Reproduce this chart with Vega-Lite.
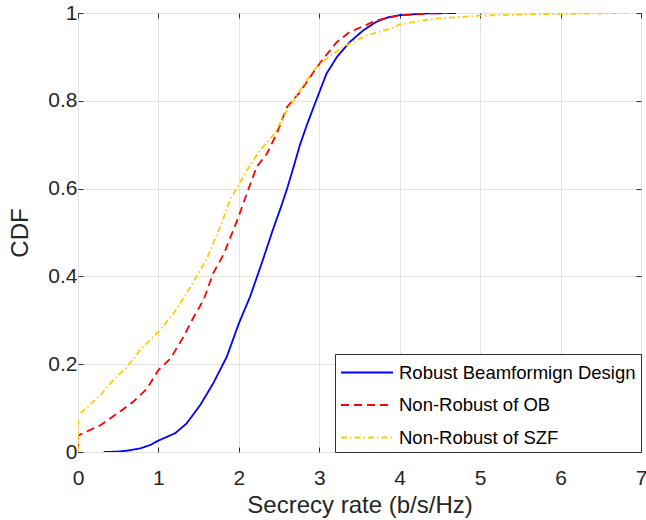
{
  "$schema": "https://vega.github.io/schema/vega-lite/v6.json",
  "width": 563,
  "height": 439,
  "autosize": {"type": "none"},
  "padding": {"left": 78, "top": 13, "right": 5, "bottom": 68},
  "background": "white",
  "config": {
    "font": "Liberation Sans",
    "view": {"stroke": "#303030", "strokeWidth": 1},
    "axis": {
      "domain": false,
      "grid": true,
      "gridColor": "#e3e3e3",
      "gridWidth": 1,
      "tickColor": "#303030",
      "tickSize": -5,
      "labelFlush": false,
      "labelOverlap": false,
      "labelFont": "Liberation Sans",
      "labelFontSize": 21,
      "labelColor": "#262626",
      "titleFont": "Liberation Sans",
      "titleFontSize": 24,
      "titleFontWeight": "normal",
      "titleColor": "#262626"
    },
    "legend": {
      "labelFont": "Liberation Sans",
      "labelFontSize": 18.5,
      "labelColor": "#000000"
    }
  },
  "data": {
    "values": [
      {"s": "Robust Beamformign Design", "i": 0, "x": 0.32, "y": 0},
      {"s": "Robust Beamformign Design", "i": 1, "x": 0.5, "y": 0.001},
      {"s": "Robust Beamformign Design", "i": 2, "x": 0.61, "y": 0.003},
      {"s": "Robust Beamformign Design", "i": 3, "x": 0.77, "y": 0.008},
      {"s": "Robust Beamformign Design", "i": 4, "x": 0.9, "y": 0.016},
      {"s": "Robust Beamformign Design", "i": 5, "x": 1.0, "y": 0.026},
      {"s": "Robust Beamformign Design", "i": 6, "x": 1.1, "y": 0.034},
      {"s": "Robust Beamformign Design", "i": 7, "x": 1.21, "y": 0.043},
      {"s": "Robust Beamformign Design", "i": 8, "x": 1.35, "y": 0.065},
      {"s": "Robust Beamformign Design", "i": 9, "x": 1.52, "y": 0.107},
      {"s": "Robust Beamformign Design", "i": 10, "x": 1.68, "y": 0.156},
      {"s": "Robust Beamformign Design", "i": 11, "x": 1.85, "y": 0.217},
      {"s": "Robust Beamformign Design", "i": 12, "x": 2.0, "y": 0.293},
      {"s": "Robust Beamformign Design", "i": 13, "x": 2.14, "y": 0.354},
      {"s": "Robust Beamformign Design", "i": 14, "x": 2.29, "y": 0.433},
      {"s": "Robust Beamformign Design", "i": 15, "x": 2.43, "y": 0.51},
      {"s": "Robust Beamformign Design", "i": 16, "x": 2.52, "y": 0.556},
      {"s": "Robust Beamformign Design", "i": 17, "x": 2.6, "y": 0.6},
      {"s": "Robust Beamformign Design", "i": 18, "x": 2.68, "y": 0.649},
      {"s": "Robust Beamformign Design", "i": 19, "x": 2.76, "y": 0.7},
      {"s": "Robust Beamformign Design", "i": 20, "x": 2.84, "y": 0.742},
      {"s": "Robust Beamformign Design", "i": 21, "x": 2.93, "y": 0.786},
      {"s": "Robust Beamformign Design", "i": 22, "x": 3.01, "y": 0.824},
      {"s": "Robust Beamformign Design", "i": 23, "x": 3.09, "y": 0.862},
      {"s": "Robust Beamformign Design", "i": 24, "x": 3.22, "y": 0.9},
      {"s": "Robust Beamformign Design", "i": 25, "x": 3.38, "y": 0.934},
      {"s": "Robust Beamformign Design", "i": 26, "x": 3.55, "y": 0.961},
      {"s": "Robust Beamformign Design", "i": 27, "x": 3.71, "y": 0.98},
      {"s": "Robust Beamformign Design", "i": 28, "x": 3.85, "y": 0.99},
      {"s": "Robust Beamformign Design", "i": 29, "x": 4.0, "y": 0.995},
      {"s": "Robust Beamformign Design", "i": 30, "x": 4.34, "y": 0.999},
      {"s": "Robust Beamformign Design", "i": 31, "x": 4.7, "y": 1.0},
      {"s": "Non-Robust of OB", "i": 0, "x": 0, "y": 0},
      {"s": "Non-Robust of OB", "i": 1, "x": 0, "y": 0.037},
      {"s": "Non-Robust of OB", "i": 2, "x": 0.03, "y": 0.04},
      {"s": "Non-Robust of OB", "i": 3, "x": 0.28, "y": 0.061},
      {"s": "Non-Robust of OB", "i": 4, "x": 0.52, "y": 0.092},
      {"s": "Non-Robust of OB", "i": 5, "x": 0.69, "y": 0.115},
      {"s": "Non-Robust of OB", "i": 6, "x": 0.86, "y": 0.145},
      {"s": "Non-Robust of OB", "i": 7, "x": 1.0, "y": 0.187},
      {"s": "Non-Robust of OB", "i": 8, "x": 1.15, "y": 0.213},
      {"s": "Non-Robust of OB", "i": 9, "x": 1.31, "y": 0.262},
      {"s": "Non-Robust of OB", "i": 10, "x": 1.44, "y": 0.308},
      {"s": "Non-Robust of OB", "i": 11, "x": 1.56, "y": 0.346},
      {"s": "Non-Robust of OB", "i": 12, "x": 1.68, "y": 0.407},
      {"s": "Non-Robust of OB", "i": 13, "x": 1.81, "y": 0.45},
      {"s": "Non-Robust of OB", "i": 14, "x": 1.98, "y": 0.528},
      {"s": "Non-Robust of OB", "i": 15, "x": 2.1, "y": 0.589},
      {"s": "Non-Robust of OB", "i": 16, "x": 2.22, "y": 0.649},
      {"s": "Non-Robust of OB", "i": 17, "x": 2.35, "y": 0.68},
      {"s": "Non-Robust of OB", "i": 18, "x": 2.47, "y": 0.725},
      {"s": "Non-Robust of OB", "i": 19, "x": 2.6, "y": 0.786},
      {"s": "Non-Robust of OB", "i": 20, "x": 2.76, "y": 0.82},
      {"s": "Non-Robust of OB", "i": 21, "x": 2.93, "y": 0.866},
      {"s": "Non-Robust of OB", "i": 22, "x": 3.05, "y": 0.896},
      {"s": "Non-Robust of OB", "i": 23, "x": 3.22, "y": 0.934},
      {"s": "Non-Robust of OB", "i": 24, "x": 3.38, "y": 0.957},
      {"s": "Non-Robust of OB", "i": 25, "x": 3.55, "y": 0.97},
      {"s": "Non-Robust of OB", "i": 26, "x": 3.71, "y": 0.983},
      {"s": "Non-Robust of OB", "i": 27, "x": 4.0, "y": 0.995},
      {"s": "Non-Robust of OB", "i": 28, "x": 4.38, "y": 0.999},
      {"s": "Non-Robust of OB", "i": 29, "x": 4.6, "y": 1.0},
      {"s": "Non-Robust of SZF", "i": 0, "x": 0, "y": 0},
      {"s": "Non-Robust of SZF", "i": 1, "x": 0, "y": 0.085},
      {"s": "Non-Robust of SZF", "i": 2, "x": 0.03, "y": 0.088},
      {"s": "Non-Robust of SZF", "i": 3, "x": 0.28, "y": 0.13},
      {"s": "Non-Robust of SZF", "i": 4, "x": 0.44, "y": 0.164},
      {"s": "Non-Robust of SZF", "i": 5, "x": 0.61, "y": 0.194},
      {"s": "Non-Robust of SZF", "i": 6, "x": 0.77, "y": 0.232},
      {"s": "Non-Robust of SZF", "i": 7, "x": 1.0, "y": 0.274},
      {"s": "Non-Robust of SZF", "i": 8, "x": 1.19, "y": 0.316},
      {"s": "Non-Robust of SZF", "i": 9, "x": 1.35, "y": 0.361},
      {"s": "Non-Robust of SZF", "i": 10, "x": 1.52, "y": 0.414},
      {"s": "Non-Robust of SZF", "i": 11, "x": 1.6, "y": 0.44},
      {"s": "Non-Robust of SZF", "i": 12, "x": 1.77, "y": 0.513},
      {"s": "Non-Robust of SZF", "i": 13, "x": 1.89, "y": 0.574},
      {"s": "Non-Robust of SZF", "i": 14, "x": 2.1, "y": 0.642},
      {"s": "Non-Robust of SZF", "i": 15, "x": 2.26, "y": 0.687},
      {"s": "Non-Robust of SZF", "i": 16, "x": 2.43, "y": 0.722},
      {"s": "Non-Robust of SZF", "i": 17, "x": 2.6, "y": 0.778},
      {"s": "Non-Robust of SZF", "i": 18, "x": 2.76, "y": 0.824},
      {"s": "Non-Robust of SZF", "i": 19, "x": 2.93, "y": 0.87},
      {"s": "Non-Robust of SZF", "i": 20, "x": 3.09, "y": 0.896},
      {"s": "Non-Robust of SZF", "i": 21, "x": 3.3, "y": 0.923},
      {"s": "Non-Robust of SZF", "i": 22, "x": 3.59, "y": 0.949},
      {"s": "Non-Robust of SZF", "i": 23, "x": 3.88, "y": 0.964},
      {"s": "Non-Robust of SZF", "i": 24, "x": 4.0, "y": 0.974},
      {"s": "Non-Robust of SZF", "i": 25, "x": 4.42, "y": 0.987},
      {"s": "Non-Robust of SZF", "i": 26, "x": 5.0, "y": 0.994},
      {"s": "Non-Robust of SZF", "i": 27, "x": 5.66, "y": 0.997},
      {"s": "Non-Robust of SZF", "i": 28, "x": 6.82, "y": 1.0}
    ]
  },
  "layer": [
    {
      "mark": {"type": "line", "strokeWidth": 1.8, "clip": true},
      "encoding": {
        "x": {
          "field": "x", "type": "quantitative",
          "scale": {"domain": [0, 7], "nice": false},
          "axis": {"orient": "bottom", "values": [0, 1, 2, 3, 4, 5, 6, 7], "title": "Secrecy rate (b/s/Hz)", "labelPadding": 20, "titlePadding": 5}
        },
        "y": {
          "field": "y", "type": "quantitative",
          "scale": {"domain": [0, 1], "nice": false},
          "axis": {"orient": "left", "values": [0, 0.2, 0.4, 0.6, 0.8, 1], "format": "~g", "title": "CDF", "labelPadding": 6, "titlePadding": 15}
        },
        "color": {
          "field": "s", "type": "nominal",
          "scale": {"domain": ["Robust Beamformign Design", "Non-Robust of OB", "Non-Robust of SZF"], "range": ["#0000ff", "#ff0000", "#ffcc00"]},
          "legend": {
            "title": null,
            "orient": "bottom-right",
            "offset": 0,
            "symbolType": "M-1,0H3.16",
            "symbolSize": 625,
            "symbolStrokeWidth": 1.8,
            "labelOffset": 32,
            "rowPadding": 9.5,
            "padding": 5,
            "fillColor": "white",
            "strokeColor": "#303030",
            "labelLimit": 400
          }
        },
        "strokeDash": {
          "field": "s", "type": "nominal",
          "scale": {"domain": ["Robust Beamformign Design", "Non-Robust of OB", "Non-Robust of SZF"], "range": [[1, 0], [8, 5], [6, 3, 1.5, 3]]},
          "legend": null
        },
        "order": {"field": "i", "type": "quantitative"}
      }
    },
    {
      "mark": {"type": "line", "opacity": 0},
      "encoding": {
        "x": {
          "field": "x", "type": "quantitative",
          "scale": {"domain": [0, 7], "nice": false},
          "axis": {"orient": "top", "values": [0, 1, 2, 3, 4, 5, 6, 7], "labels": false, "grid": false, "title": null}
        },
        "y": {
          "field": "y", "type": "quantitative",
          "scale": {"domain": [0, 1], "nice": false},
          "axis": {"orient": "right", "values": [0, 0.2, 0.4, 0.6, 0.8, 1], "labels": false, "grid": false, "title": null}
        },
        "detail": {"field": "s", "type": "nominal"}
      }
    }
  ],
  "resolve": {"axis": {"x": "independent", "y": "independent"}}
}
